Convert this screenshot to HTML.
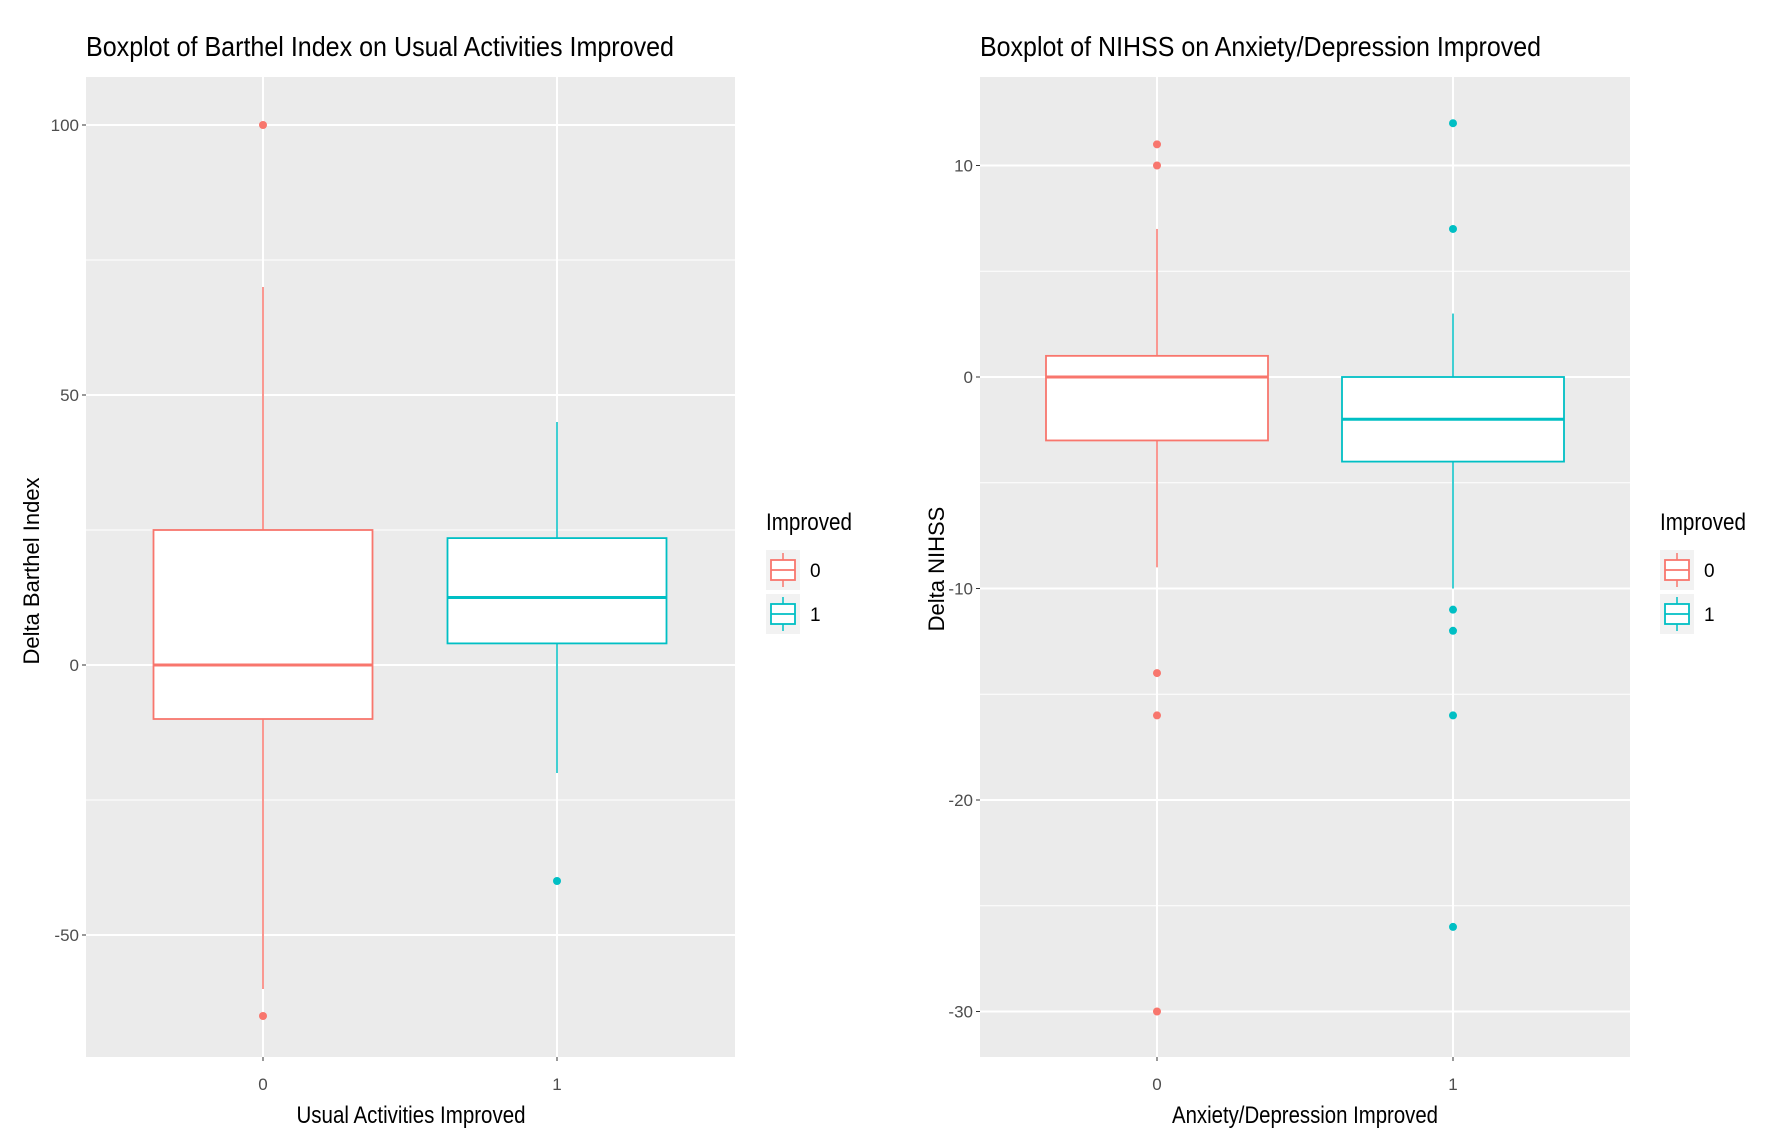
<!DOCTYPE html>
<html><head><meta charset="utf-8"><style>
html,body{margin:0;padding:0;background:#fff;}
svg{display:block;font-family:"Liberation Sans",sans-serif;}
</style></head><body>
<svg id="chart" width="1772" height="1142" viewBox="0 0 1772 1142"></svg>
<script>
const categories = ["0", "1"];
// Left chart: Barthel
const leftTicks = [100, 50, 0, -50];
const leftMinor = [75, 25, -25];
const leftWhiskerHigh = [70, 45];
const leftQ3 = [25, 23.5];
const leftMedian = [0, 12.5];
const leftQ1 = [-10, 4];
const leftWhiskerLow = [-60, -20];
const leftOutliers0 = [100, -65];
const leftOutliers1 = [-40];
// Right chart: NIHSS
const rightTicks = [10, 0, -10, -20, -30];
const rightMinor = [5, -5, -15, -25];
const rightWhiskerHigh = [7, 3];
const rightQ3 = [1, 0];
const rightMedian = [0, -2];
const rightQ1 = [-3, -4];
const rightWhiskerLow = [-9, -10];
const rightOutliers0 = [11, 10, -14, -16, -30];
const rightOutliers1 = [12, 7, -11, -12, -16, -26];

const NS = "http://www.w3.org/2000/svg";
const svg = document.getElementById("chart");
const colors = ["#F8766D", "#00BFC4"];
function mk(tag, attrs, parent) {
  const e = document.createElementNS(NS, tag);
  for (const k in attrs) e.setAttribute(k, attrs[k]);
  (parent || svg).appendChild(e);
  return e;
}
function txt(s, attrs, parent) { const t = mk("text", attrs, parent); t.textContent = s; return t; }

function drawPanel(cfg) {
  const g = mk("g", {});
  
  
  const y = v => cfg.y0 + (cfg.v0 - v) * cfg.pxPerUnit;
  const x = i => cfg.xc[i];
  const bg = mk("rect", {x: cfg.px, y: cfg.py, width: cfg.pw, height: cfg.ph, fill: "#EBEBEB"}, g);
  
  
  cfg.minor.forEach(v => {
    const l = mk("line", {x1: cfg.px, x2: cfg.px + cfg.pw, y1: y(v), y2: y(v), stroke: "#fff", "stroke-width": 1}, g);
    
    
  });
  cfg.ticks.forEach(v => {
    const l = mk("line", {x1: cfg.px, x2: cfg.px + cfg.pw, y1: y(v), y2: y(v), stroke: "#fff", "stroke-width": 2}, g);
    
    
    const tk = mk("line", {x1: cfg.px - 4, x2: cfg.px, y1: y(v), y2: y(v), stroke: "#333", "stroke-width": 1}, g);
    
    
    const t = txt(String(v), {x: cfg.px - 7, y: y(v) + 6, "text-anchor": "end", "font-size": 17, fill: "#4d4d4d"}, g);
    
    
  });
  categories.forEach((c, i) => {
    const l = mk("line", {x1: x(i), x2: x(i), y1: cfg.py, y2: cfg.py + cfg.ph, stroke: "#fff", "stroke-width": 2}, g);
    
    
    const tk = mk("line", {x1: x(i), x2: x(i), y1: cfg.py + cfg.ph, y2: cfg.py + cfg.ph + 4, stroke: "#333"}, g);
    
    
    const t = txt(c, {x: x(i), y: cfg.py + cfg.ph + 33, "text-anchor": "middle", "font-size": 17, fill: "#4d4d4d"}, g);
    
    
  });
  categories.forEach((c, i) => {
    const col = colors[i];
    const bg2 = mk("g", {}, g);
    
    
    const w1 = mk("line", {x1: x(i), x2: x(i), y1: y(cfg.wh[i]), y2: y(cfg.q3[i]), stroke: col, "stroke-width": 1.5}, bg2);
    
    
    const w2 = mk("line", {x1: x(i), x2: x(i), y1: y(cfg.q1[i]), y2: y(cfg.wl[i]), stroke: col, "stroke-width": 1.5}, bg2);
    
    
    const r = mk("rect", {x: x(i) - cfg.bw / 2, y: y(cfg.q3[i]), width: cfg.bw, height: y(cfg.q1[i]) - y(cfg.q3[i]), fill: "#fff", stroke: col, "stroke-width": 1.8}, bg2);
    
    
    const m = mk("line", {x1: x(i) - cfg.bw / 2, x2: x(i) + cfg.bw / 2, y1: y(cfg.med[i]), y2: y(cfg.med[i]), stroke: col, "stroke-width": 3}, bg2);
    
    
    cfg.out[i].forEach(v => {
      const p = mk("circle", {cx: x(i), cy: y(v), r: 4, fill: col}, bg2);
      
      
    });
  });
  const title = txt(cfg.title, {x: cfg.px, y: 56, "font-size": 28, fill: "#000", textLength: cfg.titleLen, lengthAdjust: "spacingAndGlyphs"}, g);
  
  
  const xt = txt(cfg.xTitle, {x: cfg.xTitleX, y: 1123, "font-size": 24, "text-anchor": "middle", textLength: cfg.xTitleLen, lengthAdjust: "spacingAndGlyphs"}, g);
  
  
  const yt = txt(cfg.yTitle, {x: 0, y: 0, "font-size": 22, "text-anchor": "middle", transform: `translate(${cfg.yTitleX},${cfg.yTitleY}) rotate(-90)`}, g);
  
  
  const lg = mk("g", {}, g);
  
  
  const lt = txt("Improved", {x: cfg.lx, y: 530, "font-size": 24, textLength: 86, lengthAdjust: "spacingAndGlyphs"}, lg);
  
  
  categories.forEach((c, i) => {
    const ky = 550 + i * 44;
    const e = mk("g", {}, lg);
    
    
    mk("rect", {x: cfg.lx, y: ky, width: 34, height: 40, fill: "#F2F2F2"}, e);
    mk("line", {x1: cfg.lx + 17, x2: cfg.lx + 17, y1: ky + 3, y2: ky + 37, stroke: colors[i], "stroke-width": 1.5}, e);
    mk("rect", {x: cfg.lx + 5, y: ky + 10, width: 24, height: 20, fill: "#fff", stroke: colors[i], "stroke-width": 1.8}, e);
    mk("line", {x1: cfg.lx + 5, x2: cfg.lx + 29, y1: ky + 20, y2: ky + 20, stroke: colors[i], "stroke-width": 1.8}, e);
    txt(c, {x: cfg.lx + 44, y: ky + 27, "font-size": 19, fill: "#000"}, e);
  });
}

drawPanel({
  name: "barthel-boxplot", px: 86, py: 77, pw: 649, ph: 980,
  y0: 665, v0: 0, pxPerUnit: 5.40, xc: [263, 557], bw: 219,
  ticks: leftTicks, minor: leftMinor,
  wh: leftWhiskerHigh, q3: leftQ3, med: leftMedian, q1: leftQ1, wl: leftWhiskerLow,
  out: [leftOutliers0, leftOutliers1],
  title: "Boxplot of Barthel Index on Usual Activities Improved", titleLen: 588,
  xTitle: "Usual Activities Improved", xTitleX: 411, xTitleLen: 229,
  yTitle: "Delta Barthel Index", yTitleX: 39, yTitleY: 571, lx: 766
});
drawPanel({
  name: "nihss-boxplot", px: 980, py: 77, pw: 650, ph: 980,
  y0: 377, v0: 0, pxPerUnit: 21.15, xc: [1157, 1453], bw: 222,
  ticks: rightTicks, minor: rightMinor,
  wh: rightWhiskerHigh, q3: rightQ3, med: rightMedian, q1: rightQ1, wl: rightWhiskerLow,
  out: [rightOutliers0, rightOutliers1],
  title: "Boxplot of NIHSS on Anxiety/Depression Improved", titleLen: 561,
  xTitle: "Anxiety/Depression Improved", xTitleX: 1305, xTitleLen: 266,
  yTitle: "Delta NIHSS", yTitleX: 944, yTitleY: 569, lx: 1660
});
</script>
</body></html>
